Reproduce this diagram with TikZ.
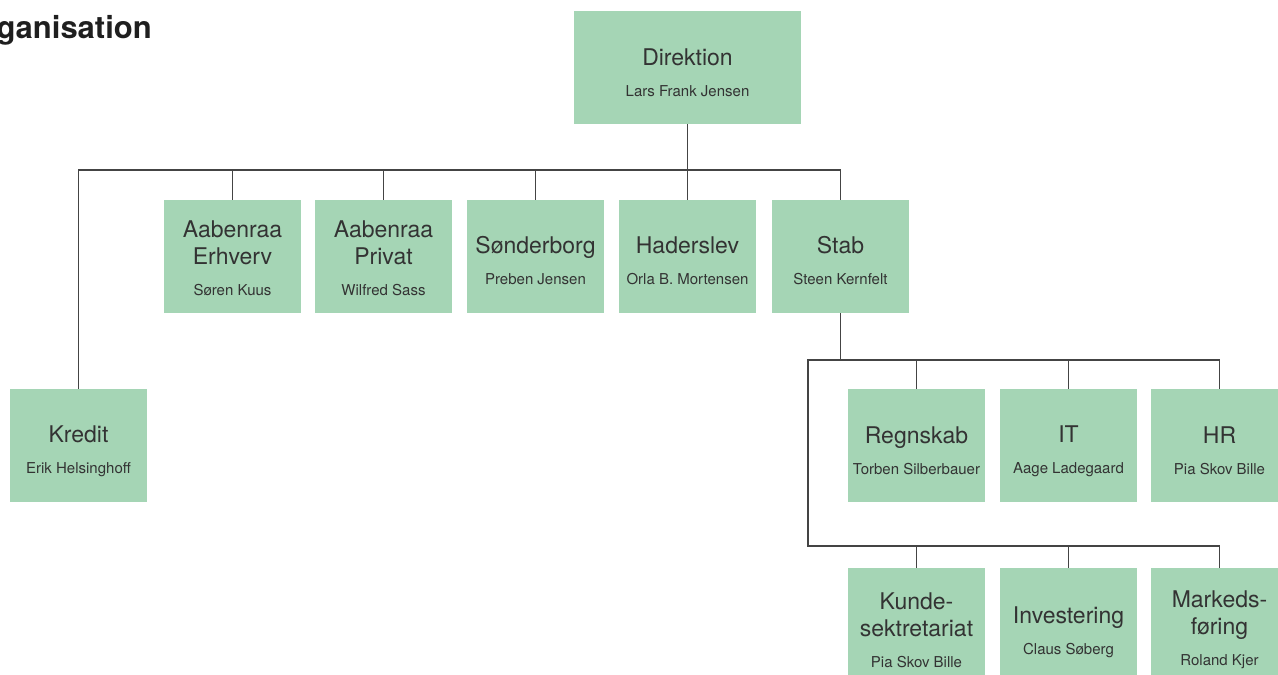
\documentclass[tikz,border=0pt]{standalone}
\usepackage{fontspec}
\setmainfont{TeX Gyre Heros}

\definecolor{boxgreen}{HTML}{A5D5B5}
\definecolor{linegray}{HTML}{444444}
\definecolor{textgray}{HTML}{333333}

% title row(s) in node font, name row smaller; optional strut lowers the text
\newcommand{\orgbox}[3][28pt]{\rule{0pt}{#1}#2\\[4pt]\fontsize{15}{18}\selectfont #3}

\begin{document}
\begin{tikzpicture}[x=1pt,y=-1pt,
    dept/.style={fill=boxgreen, minimum width=137pt, minimum height=113pt, inner sep=0pt,
        align=center, text=textgray, font=\fontsize{23}{27}\selectfont},
    link/.style={draw=linegray, line width=1.5pt}]

    % fix picture size
    \useasboundingbox (0,0) rectangle (1278,675);
    \clip (0,0) rectangle (1278,675);

    % draw title
    \node[anchor=base east, inner sep=0pt, text=black!88,
        font=\fontsize{31}{36}\selectfont\bfseries] (title) at (152,38) {Organisation};

    % draw top box
    \node[dept, minimum width=227pt] (dir) at (687.5,67.5) {\orgbox[27pt]{Direktion}{Lars Frank Jensen}};

    % draw first level
    \node[dept] (erhverv) at (232.5,256.5) {\orgbox[20pt]{Aabenraa\\Erhverv}{Søren Kuus}};
    \node[dept] (privat)  at (383.5,256.5) {\orgbox[20pt]{Aabenraa\\Privat}{Wilfred Sass}};
    \node[dept] (soender) at (535.5,256.5) {\orgbox[26pt]{Sønderborg}{Preben Jensen}};
    \node[dept] (haders)  at (687.5,256.5) {\orgbox[26pt]{Haderslev}{Orla B. Mortensen}};
    \node[dept] (stab)    at (840.5,256.5) {\orgbox[26pt]{Stab}{Steen Kernfelt}};
    \node[dept] (kredit)  at (78.5,445.5)  {\orgbox{Kredit}{Erik Helsinghoff}};

    % draw staff units
    \node[dept] (regnskab) at (916.5,445.5)  {\orgbox{Regnskab}{Torben Silberbauer}};
    \node[dept] (it)       at (1068.5,445.5) {\orgbox{IT}{Aage Ladegaard}};
    \node[dept] (hr)       at (1219.5,445.5) {\orgbox{HR}{Pia Skov Bille}};
    \node[dept] (kunde)    at (916.5,624.5)  {\orgbox{Kunde-\\sektretariat}{Pia Skov Bille}};
    \node[dept] (invest)   at (1068.5,624.5) {\orgbox[33pt]{Investering}{Claus Søberg}};
    \node[dept] (marked)   at (1219.5,624.5) {\orgbox{Markeds-\\føring}{Roland Kjer}};

    % draw top connectors
    \coordinate (topbus) at (687.5,170);
    \draw[link] (dir.south) -- (topbus);
    \draw[link] (kredit.north) |- (stab.north |- topbus) -- (stab.north);
    \foreach \n in {erhverv,privat,soender,haders}
    \draw[link] (\n.north) -- (\n.north |- topbus);

    % draw staff connectors
    \coordinate (stabbus) at (840.5,360);
    \coordinate (lowbus) at (808,546);
    \draw[link] (stab.south) -- (stabbus);
    \draw[link] (hr.north) |- (lowbus |- stabbus) -- (lowbus) -| (marked.north);
    \foreach \n in {regnskab,it}
    \draw[link] (\n.north) -- (\n.north |- stabbus);
    \foreach \n in {kunde,invest}
    \draw[link] (\n.north) -- (\n.north |- lowbus);
\end{tikzpicture}
\end{document}
